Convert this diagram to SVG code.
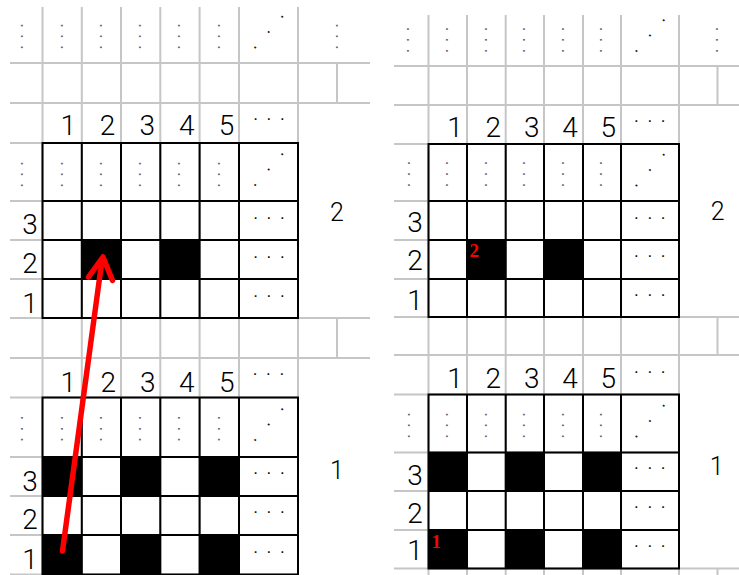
<svg xmlns="http://www.w3.org/2000/svg" width="739" height="575" viewBox="0 0 739 575">
<style>
.g{stroke:#c6c6c6;stroke-width:2;fill:none}
.k{stroke:#000;stroke-width:2;fill:none}
.blk{fill:#000}
.n{font-family:Roboto,"Liberation Sans",Arial,sans-serif;font-weight:300;font-size:28px;text-anchor:middle;fill:#000}
.p{font-family:Roboto,"Liberation Sans",Arial,sans-serif;font-weight:300;font-size:25px;text-anchor:middle;fill:#000}
.dv{font-family:"Liberation Sans",Arial,sans-serif;font-size:17px;fill:#62627a}
.dh{font-family:"Liberation Sans",Arial,sans-serif;font-size:17px;fill:#111}
.dd{font-family:"Liberation Sans",Arial,sans-serif;font-size:17px;fill:#111}
.r{font-family:"Liberation Serif","Times New Roman",serif;font-weight:bold;font-size:19px;fill:#f00}
.arrow{stroke:#f00;stroke-width:5.5;fill:none;stroke-linecap:round;stroke-linejoin:round}
</style>

<g id="left-panel">
  <g id="left-gray-lines" class="g">
    <path d="M42.5 7V575M81.8 7V575M121 7V575M160.3 7V575M199.6 7V575M239 7V575M298 7V575"/>
    <path d="M337 63V103M337 318V358"/>
    <path d="M10 63H370M10 103H370M10 318H370M10 358H370"/>
    <path d="M10 143H298M10 201H298M10 240H298M10 279H298M10 397.5H298M10 457H298M10 496H298M10 535H298M10 574.5H298"/>
  </g>
  <g id="left-grid-top">
    <rect class="blk" x="81.8" y="240" width="39.2" height="39"/>
    <rect class="blk" x="160.3" y="240" width="39.3" height="39"/>
    <rect class="k" x="42.5" y="143" width="255.5" height="175"/>
    <path class="k" d="M81.8 143V318M121 143V318M160.3 143V318M199.6 143V318M239 143V318M42.5 201H298M42.5 240H298M42.5 279H298"/>
  </g>
  <g id="left-grid-bottom">
    <rect class="blk" x="42.5" y="457" width="39.3" height="39"/>
    <rect class="blk" x="121" y="457" width="39.3" height="39"/>
    <rect class="blk" x="199.6" y="457" width="39.4" height="39"/>
    <rect class="blk" x="42.5" y="535" width="39.3" height="40"/>
    <rect class="blk" x="121" y="535" width="39.3" height="40"/>
    <rect class="blk" x="199.6" y="535" width="39.4" height="40"/>
    <rect class="k" x="42.5" y="397.5" width="255.5" height="177"/>
    <path class="k" d="M81.8 397.5V575M121 397.5V575M160.3 397.5V575M199.6 397.5V575M239 397.5V575M42.5 457H298M42.5 496H298M42.5 535H298"/>
  </g>
  <g id="left-top-texts">
    <text class="dv" transform="translate(21 35) rotate(90)" x="-12.36" y="4.25" dx="0 5.27 5.27">···</text>
    <text class="dv" transform="translate(61 35) rotate(90)" x="-12.36" y="4.25" dx="0 5.27 5.27">···</text>
    <text class="dv" transform="translate(100 35) rotate(90)" x="-12.36" y="4.25" dx="0 5.27 5.27">···</text>
    <text class="dv" transform="translate(139.3 35) rotate(90)" x="-12.36" y="4.25" dx="0 5.27 5.27">···</text>
    <text class="dv" transform="translate(178.7 35) rotate(90)" x="-12.36" y="4.25" dx="0 5.27 5.27">···</text>
    <text class="dv" transform="translate(218 35) rotate(90)" x="-12.36" y="4.25" dx="0 5.27 5.27">···</text>
    <text class="dv" transform="translate(336.7 35) rotate(90)" x="-12.36" y="4.25" dx="0 5.27 5.27">···</text>
    <text class="dd" transform="translate(268 33.5) rotate(-48.5)" x="-21.96" y="4.25" dx="0 14.87 14.87">···</text>
    <text class="n" x="68.3" y="135">1</text>
    <text class="n" x="107.5" y="135">2</text>
    <text class="n" x="147.3" y="135">3</text>
    <text class="n" x="186.7" y="135">4</text>
    <text class="n" x="226.5" y="135">5</text>
    <text class="dh" x="252.64" y="124.25" dx="0 7.77 7.77">···</text>
    <text class="dv" transform="translate(21 173) rotate(90)" x="-12.36" y="4.25" dx="0 5.27 5.27">···</text>
    <text class="dv" transform="translate(61 173) rotate(90)" x="-12.36" y="4.25" dx="0 5.27 5.27">···</text>
    <text class="dv" transform="translate(100 173) rotate(90)" x="-12.36" y="4.25" dx="0 5.27 5.27">···</text>
    <text class="dv" transform="translate(139.3 173) rotate(90)" x="-12.36" y="4.25" dx="0 5.27 5.27">···</text>
    <text class="dv" transform="translate(178.7 173) rotate(90)" x="-12.36" y="4.25" dx="0 5.27 5.27">···</text>
    <text class="dv" transform="translate(218 173) rotate(90)" x="-12.36" y="4.25" dx="0 5.27 5.27">···</text>
    <text class="dd" transform="translate(268 171) rotate(-48.5)" x="-21.96" y="4.25" dx="0 14.87 14.87">···</text>
    <text class="n" x="30" y="234">3</text>
    <text class="n" x="30" y="273">2</text>
    <text class="n" x="30" y="312.5">1</text>
    <text class="dh" x="252.64" y="222.75" dx="0 7.77 7.77">···</text>
    <text class="dh" x="252.64" y="261.75" dx="0 7.77 7.77">···</text>
    <text class="dh" x="252.64" y="300.75" dx="0 7.77 7.77">···</text>
    <text class="p" x="337" y="220.5">2</text>
  </g>
  <g id="left-bottom-texts">
    <text class="n" x="68.3" y="391.7">1</text>
    <text class="n" x="108.3" y="391.7">2</text>
    <text class="n" x="147.7" y="391.7">3</text>
    <text class="n" x="186.7" y="391.7">4</text>
    <text class="n" x="226.7" y="391.7">5</text>
    <text class="dh" x="252.14" y="379.25" dx="0 7.77 7.77">···</text>
    <text class="dv" transform="translate(21 427.3) rotate(90)" x="-12.36" y="4.25" dx="0 5.27 5.27">···</text>
    <text class="dv" transform="translate(61 427.3) rotate(90)" x="-12.36" y="4.25" dx="0 5.27 5.27">···</text>
    <text class="dv" transform="translate(100 427.3) rotate(90)" x="-12.36" y="4.25" dx="0 5.27 5.27">···</text>
    <text class="dv" transform="translate(139.3 427.3) rotate(90)" x="-12.36" y="4.25" dx="0 5.27 5.27">···</text>
    <text class="dv" transform="translate(178.7 427.3) rotate(90)" x="-12.36" y="4.25" dx="0 5.27 5.27">···</text>
    <text class="dv" transform="translate(218 427.3) rotate(90)" x="-12.36" y="4.25" dx="0 5.27 5.27">···</text>
    <text class="dd" transform="translate(268 426) rotate(-48.5)" x="-21.96" y="4.25" dx="0 14.87 14.87">···</text>
    <text class="n" x="30" y="491">3</text>
    <text class="n" x="30" y="529">2</text>
    <text class="n" x="30" y="568.5">1</text>
    <text class="dh" x="252.64" y="478.25" dx="0 7.77 7.77">···</text>
    <text class="dh" x="252.64" y="516.95" dx="0 7.77 7.77">···</text>
    <text class="dh" x="252.64" y="556.55" dx="0 7.77 7.77">···</text>
    <text class="p" x="337" y="479.3">1</text>
  </g>
</g>

<g id="right-panel">
  <g id="right-gray-lines" class="g">
    <path d="M428.5 15V575M467 15V575M505.7 15V575M544 15V575M583 15V575M621 15V575M679 15V575"/>
    <path d="M717.5 66V105M717.5 317V355M717.5 568.5V575"/>
    <path d="M394 66H739M394 105H739M394 317H739M394 355H739M394 568.5H739"/>
    <path d="M394 144H679M394 201H679M394 240H679M394 279H679M394 394.5H679M394 452.5H679M394 491H679M394 530H679"/>
  </g>
  <g id="right-grid-top">
    <rect class="blk" x="467" y="240" width="38.7" height="39"/>
    <rect class="blk" x="544" y="240" width="39" height="39"/>
    <rect class="k" x="428.5" y="144" width="250.5" height="173"/>
    <path class="k" d="M467 144V317M505.7 144V317M544 144V317M583 144V317M621 144V317M428.5 201H679M428.5 240H679M428.5 279H679"/>
  </g>
  <g id="right-grid-bottom">
    <rect class="blk" x="428.5" y="452.5" width="38.5" height="38.5"/>
    <rect class="blk" x="505.7" y="452.5" width="38.3" height="38.5"/>
    <rect class="blk" x="583" y="452.5" width="38" height="38.5"/>
    <rect class="blk" x="428.5" y="530" width="38.5" height="38.5"/>
    <rect class="blk" x="505.7" y="530" width="38.3" height="38.5"/>
    <rect class="blk" x="583" y="530" width="38" height="38.5"/>
    <rect class="k" x="428.5" y="394.5" width="250.5" height="174"/>
    <path class="k" d="M467 394.5V568.5M505.7 394.5V568.5M544 394.5V568.5M583 394.5V568.5M621 394.5V568.5M428.5 452.5H679M428.5 491H679M428.5 530H679"/>
  </g>
  <g id="right-top-texts">
    <text class="dv" transform="translate(407.5 38.5) rotate(90)" x="-12.36" y="4.25" dx="0 5.27 5.27">···</text>
    <text class="dv" transform="translate(446.3 38.5) rotate(90)" x="-12.36" y="4.25" dx="0 5.27 5.27">···</text>
    <text class="dv" transform="translate(485 38.5) rotate(90)" x="-12.36" y="4.25" dx="0 5.27 5.27">···</text>
    <text class="dv" transform="translate(523.3 38.5) rotate(90)" x="-12.36" y="4.25" dx="0 5.27 5.27">···</text>
    <text class="dv" transform="translate(562 38.5) rotate(90)" x="-12.36" y="4.25" dx="0 5.27 5.27">···</text>
    <text class="dv" transform="translate(600.3 38.5) rotate(90)" x="-12.36" y="4.25" dx="0 5.27 5.27">···</text>
    <text class="dv" transform="translate(716 38.5) rotate(90)" x="-12.36" y="4.25" dx="0 5.27 5.27">···</text>
    <text class="dd" transform="translate(649.3 37) rotate(-48.5)" x="-21.96" y="4.25" dx="0 14.87 14.87">···</text>
    <text class="n" x="455" y="136.7">1</text>
    <text class="n" x="493.3" y="136.7">2</text>
    <text class="n" x="531.7" y="136.7">3</text>
    <text class="n" x="570" y="136.7">4</text>
    <text class="n" x="608.3" y="136.7">5</text>
    <text class="dh" x="633.44" y="125.95" dx="0 7.77 7.77">···</text>
    <text class="dv" transform="translate(408.3 172.7) rotate(90)" x="-12.36" y="4.25" dx="0 5.27 5.27">···</text>
    <text class="dv" transform="translate(446.3 172.7) rotate(90)" x="-12.36" y="4.25" dx="0 5.27 5.27">···</text>
    <text class="dv" transform="translate(485 172.7) rotate(90)" x="-12.36" y="4.25" dx="0 5.27 5.27">···</text>
    <text class="dv" transform="translate(523.3 172.7) rotate(90)" x="-12.36" y="4.25" dx="0 5.27 5.27">···</text>
    <text class="dv" transform="translate(562 172.7) rotate(90)" x="-12.36" y="4.25" dx="0 5.27 5.27">···</text>
    <text class="dv" transform="translate(600.3 172.7) rotate(90)" x="-12.36" y="4.25" dx="0 5.27 5.27">···</text>
    <text class="dd" transform="translate(649.3 171.5) rotate(-48.5)" x="-21.96" y="4.25" dx="0 14.87 14.87">···</text>
    <text class="n" x="415" y="231.7">3</text>
    <text class="n" x="415" y="270">2</text>
    <text class="n" x="415" y="310">1</text>
    <text class="dh" x="633.44" y="222.55" dx="0 7.77 7.77">···</text>
    <text class="dh" x="633.44" y="260.95" dx="0 7.77 7.77">···</text>
    <text class="dh" x="633.44" y="299.95" dx="0 7.77 7.77">···</text>
    <text class="p" x="717.7" y="220">2</text>
    <text class="r" x="469.5" y="256.5">2</text>
  </g>
  <g id="right-bottom-texts">
    <text class="n" x="455" y="388.3">1</text>
    <text class="n" x="493.3" y="388.3">2</text>
    <text class="n" x="531.7" y="388.3">3</text>
    <text class="n" x="570" y="388.3">4</text>
    <text class="n" x="608.3" y="388.3">5</text>
    <text class="dh" x="633.44" y="376.95" dx="0 7.77 7.77">···</text>
    <text class="dv" transform="translate(408.3 424) rotate(90)" x="-12.36" y="4.25" dx="0 5.27 5.27">···</text>
    <text class="dv" transform="translate(446.3 424) rotate(90)" x="-12.36" y="4.25" dx="0 5.27 5.27">···</text>
    <text class="dv" transform="translate(485 424) rotate(90)" x="-12.36" y="4.25" dx="0 5.27 5.27">···</text>
    <text class="dv" transform="translate(523.3 424) rotate(90)" x="-12.36" y="4.25" dx="0 5.27 5.27">···</text>
    <text class="dv" transform="translate(562 424) rotate(90)" x="-12.36" y="4.25" dx="0 5.27 5.27">···</text>
    <text class="dv" transform="translate(600.3 424) rotate(90)" x="-12.36" y="4.25" dx="0 5.27 5.27">···</text>
    <text class="dd" transform="translate(649.3 422.5) rotate(-48.5)" x="-21.96" y="4.25" dx="0 14.87 14.87">···</text>
    <text class="n" x="415" y="485">3</text>
    <text class="n" x="415" y="523.3">2</text>
    <text class="n" x="415" y="560">1</text>
    <text class="dh" x="633.44" y="473.25" dx="0 7.77 7.77">···</text>
    <text class="dh" x="633.44" y="511.55" dx="0 7.77 7.77">···</text>
    <text class="dh" x="633.44" y="550.95" dx="0 7.77 7.77">···</text>
    <text class="p" x="716.7" y="475">1</text>
    <text class="r" x="431.5" y="548">1</text>
  </g>
</g>

<g id="connectors">
  <path class="arrow" d="M62.5 551L102 260"/>
  <path class="arrow" d="M88.5 277L103 257L112.5 280.5"/>
</g>
</svg>
